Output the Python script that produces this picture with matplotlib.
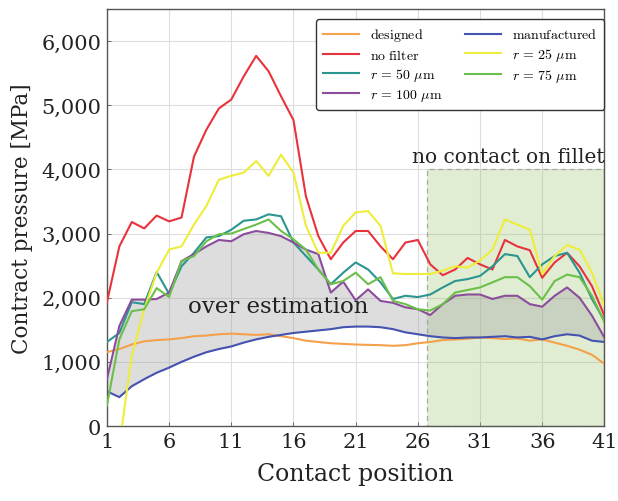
import matplotlib
matplotlib.use("Agg")
import matplotlib.pyplot as plt
import numpy as np
from matplotlib.patches import Rectangle

# contact positions along the flank
position = np.arange(1, 42)

designed = [1150, 1200, 1270, 1320, 1340, 1350, 1370, 1400, 1410, 1430,
            1440, 1430, 1420, 1430, 1400, 1370, 1330, 1310, 1290, 1280,
            1270, 1265, 1260, 1250, 1260, 1290, 1310, 1340, 1350, 1360,
            1380, 1370, 1355, 1365, 1330, 1350, 1300, 1250, 1190, 1110, 970]
manufactured = [540, 450, 620, 730, 830, 910, 1000, 1080, 1150, 1200,
                1240, 1300, 1350, 1390, 1420, 1450, 1470, 1490, 1510, 1540,
                1550, 1550, 1540, 1510, 1460, 1430, 1400, 1380, 1370, 1380,
                1380, 1390, 1400, 1380, 1390, 1350, 1400, 1430, 1410, 1330, 1310]
no_filter = [1930, 2800, 3180, 3080, 3280, 3190, 3250, 4200, 4620, 4950,
             5090, 5450, 5770, 5530, 5140, 4770, 3580, 2960, 2600, 2860,
             3040, 3040, 2800, 2600, 2860, 2900, 2520, 2350, 2440, 2620,
             2520, 2440, 2900, 2800, 2740, 2310, 2550, 2700, 2490, 2180, 1720]
r25 = [-1800, -300, 1100, 1820, 2390, 2750, 2800, 3140, 3430, 3840,
       3900, 3950, 4130, 3900, 4230, 3950, 3120, 2700, 2700, 3120,
       3330, 3350, 3120, 2380, 2370, 2370, 2370, 2420, 2490, 2470,
       2580, 2750, 3220, 3140, 3060, 2370, 2650, 2820, 2750, 2390, 1870]
r50 = [1310, 1450, 1930, 1900, 2400, 2060, 2490, 2700, 2940, 2960,
       3060, 3200, 3220, 3300, 3270, 2860, 2650, 2440, 2210, 2390,
       2550, 2440, 2240, 1980, 2030, 2010, 2050, 2160, 2260, 2290,
       2340, 2490, 2680, 2650, 2320, 2520, 2650, 2700, 2390, 1980, 1640]
r75 = [320, 1350, 1790, 1820, 2150, 2010, 2570, 2650, 2880, 2990,
       3000, 3070, 3140, 3220, 3040, 2910, 2750, 2440, 2210, 2260,
       2390, 2210, 2320, 1950, 1900, 1820, 1800, 1900, 2080, 2120,
       2160, 2240, 2320, 2320, 2180, 1970, 2260, 2360, 2320, 2030, 1620]
r100 = [730, 1560, 1970, 1970, 1980, 2080, 2570, 2680, 2800, 2900,
        2880, 2990, 3040, 3010, 2960, 2860, 2750, 2680, 2080, 2250,
        1960, 2130, 1950, 1920, 1850, 1820, 1730, 1900, 2030, 2050,
        2050, 1980, 2030, 2030, 1900, 1860, 2030, 2160, 2000, 1720, 1380]

xticks = [1, 6, 11, 16, 21, 26, 31, 36, 41]
yticks = [0, 1000, 2000, 3000, 4000, 5000, 6000]
fillet_start = 26.7
fillet_top = 4000

plt.rcParams["mathtext.fontset"] = "cm"
plt.rcParams["font.family"] = "DejaVu Serif"

fig = plt.figure(figsize=(6.18, 5.02), dpi=100)
ax = fig.add_axes([0.173, 0.1494, 0.805, 0.8306])

# region where the tooth has no contact on the fillet
ax.add_patch(Rectangle((fillet_start, 0), 41 - fillet_start, fillet_top,
                       facecolor="#9bc46b", alpha=0.3, edgecolor="none", zorder=1))
ax.add_patch(Rectangle((fillet_start, 0), 41 - fillet_start, fillet_top,
                       facecolor="none", edgecolor="#a8a8a8", linestyle=(0, (4, 3)),
                       linewidth=0.9, zorder=1.5))
ax.text(41, fillet_top + 60, "no contact on fillet", ha="right", va="bottom",
        fontsize=14.5, color="#222222")

# over estimation band between the smoothest filter and the measured flank
ax.fill_between(position, r100, manufactured, color="#a0a0a0", alpha=0.35,
                linewidth=0, zorder=2)
ax.text(14.8, 1870, "over estimation", ha="center", va="center",
        fontsize=16.5, color="#222222", zorder=5)

lw = 1.5
series = [
    (designed, "#f5a04a", r"$\mathrm{designed}$"),
    (no_filter, "#e8323c", r"$\mathrm{no\ filter}$"),
    (r50, "#2b9590", r"$r\,=\,50\ \mu\mathrm{m}$"),
    (r100, "#8c4c9c", r"$r\,=\,100\ \mu\mathrm{m}$"),
    (manufactured, "#4452b0", r"$\mathrm{manufactured}$"),
    (r25, "#eded3a", r"$r\,=\,25\ \mu\mathrm{m}$"),
    (r75, "#6cbf4a", r"$r\,=\,75\ \mu\mathrm{m}$"),
]
for values, color, label in series:
    ax.plot(position, values, color=color, linewidth=lw, label=label, zorder=3)

ax.set_xlim(1, 41)
ax.set_ylim(0, 6500)
ax.set_xticks(xticks)
ax.set_yticks(yticks)
ax.set_yticklabels([f"{v:,}" for v in yticks])
ax.tick_params(direction="in", length=3, width=0.6, color="#555555",
               labelsize=15, labelcolor="#222222", pad=4)
ax.grid(color="#dddddd", linewidth=0.8, zorder=0)
ax.set_axisbelow(True)
for s in ax.spines.values():
    s.set_color("#555555")
    s.set_linewidth(1.0)

ax.set_xlabel("Contact position", fontsize=17, color="#222222", labelpad=8)
ax.set_ylabel("Contract pressure [MPa]", fontsize=15.5, color="#222222", labelpad=6)

leg = ax.legend(ncol=2, loc="upper right", bbox_to_anchor=(1.0, 0.975),
                fontsize=10, frameon=True, fancybox=True, edgecolor="#333333",
                framealpha=1, borderaxespad=0.0, handlelength=2.6,
                columnspacing=1.6, labelspacing=0.3, borderpad=0.5)
leg.get_frame().set_linewidth(1.0)

fig.savefig("out.png", dpi=100)
